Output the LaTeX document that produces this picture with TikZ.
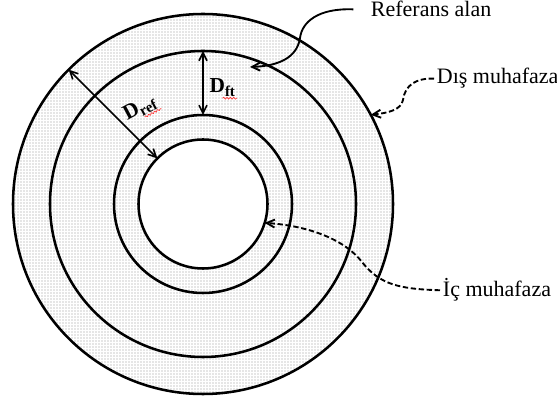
\documentclass[tikz,border=0pt]{standalone}
\usepackage{fontspec}
\setmainfont{Liberation Serif}
\usetikzlibrary{positioning,arrows.meta,calc,patterns.meta,decorations.pathmorphing}

\begin{document}
\begin{tikzpicture}[
    x=0.75pt, y=-0.75pt,
    ring/.style={draw, circle, line width=1.9pt, inner sep=0pt, outer sep=0pt},
    lbl/.style={font=\fontsize{16.5}{19}\selectfont, inner xsep=2pt, inner ysep=1pt},
    dimlbl/.style={font=\fontsize{16}{19}\selectfont\bfseries, inner sep=1pt},
    dimarr/.style={{Straight Barb[length=6pt,width=6pt]}-{Straight Barb[length=6pt,width=6pt]}, line width=1.2pt},
    callout/.style={-{Straight Barb[length=6pt,width=6pt]}, line width=1.4pt},
    dcallout/.style={callout, dash pattern=on 4pt off 2pt},
    squiggle/.style={draw=red!80, line width=0.5pt, decorate, decoration={snake, segment length=2.5pt, amplitude=0.7pt}}
  ]
  \fill[white] (0,0) rectangle (557,398);
  \useasboundingbox (0,0) rectangle (557,398);

  % Halkalar
  \node[ring, minimum size=285pt, pattern={Dots[distance=2.25pt, radius=0.4pt]}, pattern color=gray!85] (outer) at (203,204) {};
  \node[ring, minimum size=229.5pt] (middle) at (203,204) {};
  \node[ring, minimum size=133.5pt] (third) at (203,204) {};
  \node[ring, minimum size=96.75pt, fill=white] (inner) at (203,204) {};

  % Olcu oklari
  \draw[dimarr] (outer.135) -- (inner.135);
  \draw[dimarr] (middle.90) -- (third.90);
  \node[dimlbl, rotate=28] (dref) at (140,108) {D\textsubscript{ref}};
  \node[dimlbl, anchor=base west] (dft) at (208,93) {D\textsubscript{ft}};
  \draw[squiggle] (dref.south) -- (dref.south east);
  \draw[squiggle] (dft.south) -- (dft.south east);

  % Etiketler
  \node[lbl, anchor=base west] (refalan) at (368,17) {Referans alan};
  \node[lbl, anchor=base west] (dis) at (434,84) {Dış muhafaza};
  \node[lbl, anchor=base west] (ic) at (440,297) {İç muhafaza};

  % Gosterge oklari
  \coordinate (refTip) at (250,67);
  \draw[callout] ([xshift=-11pt]refalan.west) .. controls (318,8) and (302,22) .. (300,38) .. controls (297,58) and (278,66) .. (refTip);
  \draw[dcallout] (dis.west) .. controls (416,78) and (405,85) .. (403,100) .. controls (401,110) and (388,113) .. (outer.28);
  \draw[dcallout] (ic.west) .. controls (400,289) and (380,285) .. (362,262) .. controls (345,240) and (310,226) .. (inner.-17);
\end{tikzpicture}
\end{document}
